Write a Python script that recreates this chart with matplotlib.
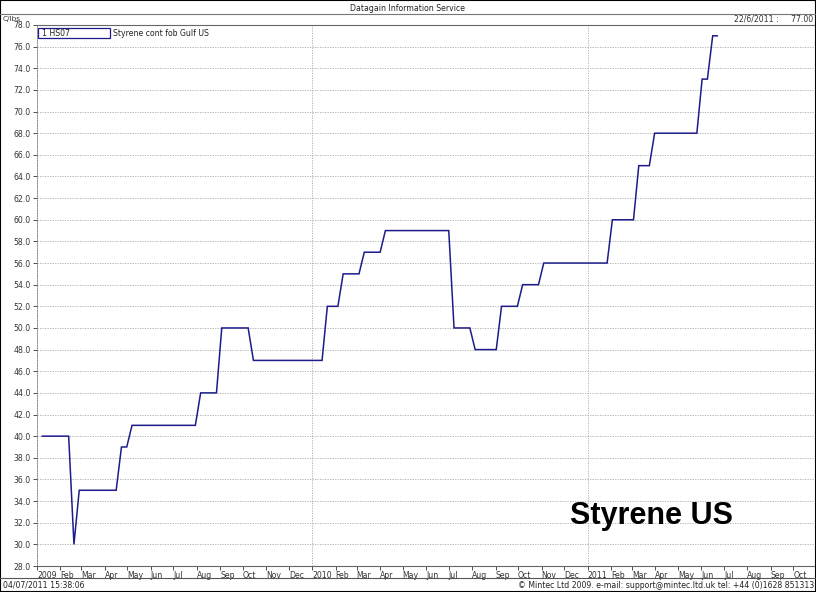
import datetime as dt
import matplotlib
matplotlib.use("Agg")
import matplotlib.pyplot as plt
import matplotlib.dates as mdates
from matplotlib.lines import Line2D
from matplotlib.patches import Rectangle
from matplotlib.ticker import FixedLocator, MultipleLocator

# vertices of the weekly price line (C/lbs)
dates = [
    "2009-01-08", "2009-02-12", "2009-02-19", "2009-02-26", "2009-04-16",
    "2009-04-23", "2009-04-30", "2009-05-07", "2009-07-30", "2009-08-06",
    "2009-08-27", "2009-09-03", "2009-10-08", "2009-10-15", "2010-01-14",
    "2010-01-21", "2010-02-04", "2010-02-11", "2010-03-04", "2010-03-11",
    "2010-04-01", "2010-04-08", "2010-07-01", "2010-07-08", "2010-07-29",
    "2010-08-05", "2010-09-02", "2010-09-09", "2010-09-30", "2010-10-07",
    "2010-10-28", "2010-11-04", "2011-01-27", "2011-02-03", "2011-03-03",
    "2011-03-10", "2011-03-24", "2011-03-31", "2011-05-26", "2011-06-02",
    "2011-06-09", "2011-06-16", "2011-06-22",
]
prices = [
    40, 40, 30, 35, 35,
    39, 39, 41, 41, 44,
    44, 50, 50, 47, 47,
    52, 52, 55, 55, 57,
    57, 59, 59, 50, 50,
    48, 48, 52, 52, 54,
    54, 56, 56, 60, 60,
    65, 65, 68, 68, 73,
    73, 77, 77,
]
series_code = "1 HS07"
series_name = "Styrene cont fob Gulf US"
last_label = "22/6/2011 :     77.00"

W, H = 816, 592
FS = 5.6
BLUE = "#1c1c8a"
GRID = "#a8a8a8"


def fx(px):
    return px / W


def fy(py):
    return 1 - py / H


fig = plt.figure(figsize=(W / 100, H / 100), dpi=100)
fig.patch.set_facecolor("white")

ax = fig.add_axes([fx(37), fy(566), fx(816 - 37), (566 - 25) / H])

x = [dt.datetime.strptime(d, "%Y-%m-%d") for d in dates]
ax.plot(x, prices, color=BLUE, lw=1.1, solid_joinstyle="miter")

ax.set_ylim(28, 78)
ax.set_xlim(dt.datetime(2009, 1, 1), dt.datetime(2011, 10, 31))
ax.yaxis.set_major_locator(MultipleLocator(2))
ax.yaxis.set_major_formatter(matplotlib.ticker.FormatStrFormatter("%.1f"))

# month ticks, Jan shown as the year
months = []
labels = []
for y in (2009, 2010, 2011):
    for m in range(1, 13):
        d = dt.datetime(y, m, 1)
        if d > dt.datetime(2011, 10, 1):
            break
        months.append(mdates.date2num(d))
        labels.append(str(y) if m == 1 else d.strftime("%b"))
ax.xaxis.set_major_locator(FixedLocator(months))
ax.set_xticklabels(labels, ha="left")

ax.tick_params(axis="both", labelsize=FS, colors="#333333", length=3,
               width=0.6, pad=1.5)
ax.tick_params(axis="x", pad=0.3)

for v in range(30, 78, 2):
    ax.axhline(v, color=GRID, lw=0.6, ls=(0, (1.5, 1.5)), zorder=0)
for yr in (2010, 2011):
    ax.axvline(dt.datetime(yr, 1, 1), color=GRID, lw=0.6,
               ls=(0, (1.5, 1.5)), zorder=0)

for s in ("top", "bottom"):
    ax.spines[s].set_color("#666666")
    ax.spines[s].set_linewidth(0.8)
ax.spines["right"].set_visible(False)
ax.spines["left"].set_color("#777777")
ax.spines["left"].set_linewidth(0.6)
ax.spines["left"].set_linestyle((0, (1.5, 1.5)))

ax.text(0.789, 0.092, "Styrene US", transform=ax.transAxes, ha="center",
        va="center", fontsize=22, fontweight="bold",
        family="Liberation Sans", color="black")

# header
fig.text(0.5, fy(8.5), "Datagain Information Service", ha="center",
         va="center", fontsize=FS, color="#222222")
fig.add_artist(Line2D([0, 1], [fy(14), fy(14)], color="#777777", lw=0.8))
fig.text(fx(3), fy(18.5), "C/lbs", ha="left", va="center", fontsize=FS - 0.3,
         color="#333333")
fig.text(fx(813), fy(19.5), last_label, ha="right", va="center", fontsize=FS,
         color="#333333")

# legend box
fig.add_artist(Rectangle((fx(38), fy(38)), fx(110 - 38), (38 - 28) / H,
                         transform=fig.transFigure, fill=False,
                         edgecolor=BLUE, lw=0.9))
fig.text(fx(42), fy(33), series_code, ha="left", va="center", fontsize=FS,
         color="#222222")
fig.text(fx(113), fy(33), series_name, ha="left", va="center", fontsize=FS,
         color="#222222")

# footer
fig.add_artist(Line2D([0, 1], [fy(578), fy(578)], color="#555555", lw=0.8))
fig.text(fx(3), fy(585), "04/07/2011 15:38:06", ha="left", va="center",
         fontsize=FS, color="#222222")
fig.text(fx(814), fy(585),
         "\u00a9 Mintec Ltd 2009. e-mail: support@mintec.ltd.uk tel: +44 (0)1628 851313",
         ha="right", va="center", fontsize=FS, color="#222222")

# outer frame
fig.add_artist(Rectangle((0, 0), 1, 1, transform=fig.transFigure,
                         fill=False, edgecolor="black", lw=1.5))

fig.savefig("out.png", dpi=100)
